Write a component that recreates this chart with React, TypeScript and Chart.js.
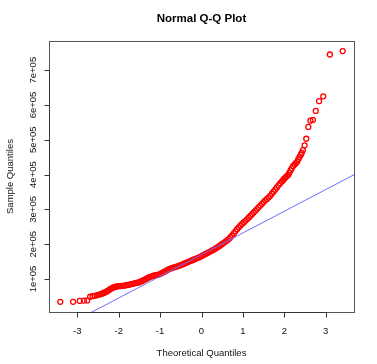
import React, { useEffect, useRef } from 'react';
import { Chart, registerables } from 'chart.js';

Chart.register(...registerables);

// Theoretical quantiles (x) and sample quantiles (y)
const theoreticalQuantiles = [
  -3.41, -3.10, -2.94, -2.84, -2.76, -2.69, -2.63, -2.58, -2.53, -2.49,
  -2.45, -2.41, -2.38, -2.35, -2.32, -2.29, -2.26, -2.23, -2.20, -2.17,
  -2.14, -2.11, -2.08, -2.05, -2.02, -1.98, -1.94, -1.90, -1.86, -1.82,
  -1.78, -1.74, -1.70, -1.66, -1.62, -1.58, -1.54, -1.50, -1.46, -1.42,
  -1.38, -1.34, -1.30, -1.26, -1.22, -1.18, -1.14, -1.10, -1.06, -1.02,
  -0.98, -0.94, -0.90, -0.86, -0.82, -0.78, -0.74, -0.70, -0.66, -0.62,
  -0.58, -0.54, -0.50, -0.46, -0.42, -0.38, -0.34, -0.30, -0.26, -0.22,
  -0.18, -0.14, -0.10, -0.06, -0.02, 0.02, 0.06, 0.10, 0.14, 0.18,
  0.22, 0.26, 0.30, 0.34, 0.38, 0.42, 0.46, 0.50, 0.54, 0.58,
  0.62, 0.66, 0.70, 0.74, 0.78, 0.82, 0.86, 0.90, 0.94, 0.98,
  1.02, 1.06, 1.10, 1.14, 1.18, 1.22, 1.26, 1.30, 1.34, 1.38,
  1.42, 1.46, 1.50, 1.54, 1.58, 1.62, 1.66, 1.70, 1.74, 1.78,
  1.82, 1.86, 1.90, 1.94, 1.97, 2.00, 2.03, 2.07, 2.10, 2.12,
  2.15, 2.18, 2.21, 2.25, 2.28, 2.31, 2.34, 2.37, 2.40, 2.42,
  2.45, 2.49, 2.53, 2.58, 2.63, 2.69, 2.76, 2.84, 2.94, 3.10,
  3.41,
];

const sampleQuantiles = [
  34300, 34300, 37000, 38000, 38500, 49000, 50500, 51500, 53000, 54500,
  56000, 57500, 59000, 60500, 62000, 64000, 66000, 68500, 71000, 73000,
  75000, 76500, 77500, 78500, 79000, 79500, 80000, 80500, 81000, 82000,
  83000, 84000, 85000, 86000, 87500, 88500, 89500, 91000, 93000, 95000,
  97500, 100000, 102500, 105000, 107000, 108500, 110000, 111000, 112000, 113500,
  115500, 118000, 120500, 123000, 126000, 128500, 130500, 132000, 133500, 135000,
  136500, 138000, 140000, 142000, 144000, 146000, 148000, 150000, 152000, 154000,
  156000, 158000, 160000, 162000, 164500, 167000, 169500, 172000, 174500, 177000,
  179500, 182000, 184500, 187500, 190500, 193500, 197000, 200500, 204000, 207500,
  211000, 215000, 220000, 225000, 231000, 237000, 243000, 248500, 253500, 258000,
  262500, 267000, 271500, 276000, 281000, 286000, 291000, 296000, 301000, 306000,
  311000, 316000, 321000, 326000, 330000, 334000, 339000, 345000, 351000, 357000,
  363000, 369000, 375000, 380000, 384000, 388000, 392000, 396000, 400000, 405000,
  412000, 418000, 424000, 429000, 433000, 437000, 444000, 451000, 457000, 462000,
  470000, 484000, 503000, 537000, 555000, 557000, 583000, 611000, 625000, 745000,
  755000,
];

// Reference line (qqline) end points at the plot edges
const qqLineX = [-3.683, 3.683];
const qqLineY = [-59500, 399500];

const xMin = -3.683;
const xMax = 3.683;
const yMin = 5160;
const yMax = 783840;

const xTicks = [-3, -2, -1, 0, 1, 2, 3];
const xTickLabels = ['-3', '-2', '-1', '0', '1', '2', '3'];
const yTicks = [100000, 200000, 300000, 400000, 500000, 600000, 700000];
const yTickLabels = ['1e+05', '2e+05', '3e+05', '4e+05', '5e+05', '6e+05', '7e+05'];

const chartTitle = 'Normal Q-Q Plot';
const xAxisTitle = 'Theoretical Quantiles';
const yAxisTitle = 'Sample Quantiles';

const FONT = "'Liberation Sans', Arial, Helvetica, sans-serif";

const rAxesPlugin = {
  id: 'rAxes',
  afterDatasetsDraw(chart: any) {
    const { ctx, chartArea, scales } = chart;
    const xs = scales.x;
    const ys = scales.y;
    const { left, right, top, bottom } = chartArea;
    ctx.save();

    // plot box
    ctx.strokeStyle = '#555';
    ctx.lineWidth = 1;
    ctx.strokeRect(Math.round(left) + 0.5, Math.round(top) + 0.5, Math.round(right - left), Math.round(bottom - top));

    ctx.strokeStyle = '#333';
    // x axis ticks
    const bx = Math.round(bottom) + 0.5;
    ctx.beginPath();
    ctx.moveTo(xs.getPixelForValue(xTicks[0]), bx);
    ctx.lineTo(xs.getPixelForValue(xTicks[xTicks.length - 1]), bx);
    xTicks.forEach((t) => {
      const px = Math.round(xs.getPixelForValue(t)) + 0.5;
      ctx.moveTo(px, bx);
      ctx.lineTo(px, bx + 5);
    });
    ctx.stroke();

    // y axis ticks
    const lx = Math.round(left) + 0.5;
    ctx.beginPath();
    ctx.moveTo(lx, ys.getPixelForValue(yTicks[0]));
    ctx.lineTo(lx, ys.getPixelForValue(yTicks[yTicks.length - 1]));
    yTicks.forEach((t) => {
      const py = Math.round(ys.getPixelForValue(t)) + 0.5;
      ctx.moveTo(lx, py);
      ctx.lineTo(lx - 5, py);
    });
    ctx.stroke();

    ctx.fillStyle = '#111';
    // x tick labels
    ctx.font = `9.5px ${FONT}`;
    ctx.textAlign = 'center';
    ctx.textBaseline = 'middle';
    xTicks.forEach((t, i) => {
      ctx.fillText(xTickLabels[i], xs.getPixelForValue(t), 331);
    });

    // y tick labels (rotated)
    yTicks.forEach((t, i) => {
      ctx.save();
      ctx.translate(33.5, ys.getPixelForValue(t));
      ctx.rotate(-Math.PI / 2);
      ctx.fillText(yTickLabels[i], 0, 0);
      ctx.restore();
    });

    // axis titles
    ctx.fillText(xAxisTitle, (left + right) / 2, 353);
    ctx.save();
    ctx.translate(10.5, (top + bottom) / 2);
    ctx.rotate(-Math.PI / 2);
    ctx.fillText(yAxisTitle, 0, 0);
    ctx.restore();

    // main title
    ctx.font = `bold 11.5px ${FONT}`;
    ctx.fillStyle = '#000';
    ctx.fillText(chartTitle, (left + right) / 2, 18.5);

    ctx.restore();
  },
};

export default function App() {
  const canvasRef = useRef<HTMLCanvasElement | null>(null);

  useEffect(() => {
    const canvas = canvasRef.current;
    if (!canvas) return;
    const points = theoreticalQuantiles.map((x, i) => ({ x, y: sampleQuantiles[i] }));
    const linePts = qqLineX.map((x, i) => ({ x, y: qqLineY[i] }));
    const chart = new Chart(canvas, {
      type: 'scatter',
      data: {
        datasets: [
          {
            type: 'line',
            data: linePts,
            borderColor: 'rgb(110,110,255)',
            borderWidth: 1,
            pointRadius: 0,
            showLine: true,
            fill: false,
          } as any,
          {
            data: points,
            pointStyle: 'circle',
            pointRadius: 2.5,
            pointBorderWidth: 1.3,
            pointBorderColor: 'rgba(255,0,0,1)',
            pointBackgroundColor: 'rgba(0,0,0,0)',
            borderColor: 'rgba(255,0,0,1)',
            backgroundColor: 'rgba(0,0,0,0)',
            showLine: false,
          },
        ],
      },
      options: {
        animation: false,
        responsive: false,
        devicePixelRatio: 1,
        layout: { padding: { left: 49, top: 41, right: 23, bottom: 52 } },
        plugins: {
          legend: { display: false },
          tooltip: { enabled: false },
          title: { display: false },
        },
        events: [],
        scales: {
          x: { type: 'linear', min: xMin, max: xMax, display: false },
          y: { type: 'linear', min: yMin, max: yMax, display: false },
        },
      },
      plugins: [rAxesPlugin],
    });
    return () => chart.destroy();
  }, []);

  return (
    <div style={{ position: 'fixed', left: 0, top: 0, width: 377, height: 364, background: '#fff' }}>
      <canvas ref={canvasRef} width={377} height={364} style={{ display: 'block' }} />
    </div>
  );
}
